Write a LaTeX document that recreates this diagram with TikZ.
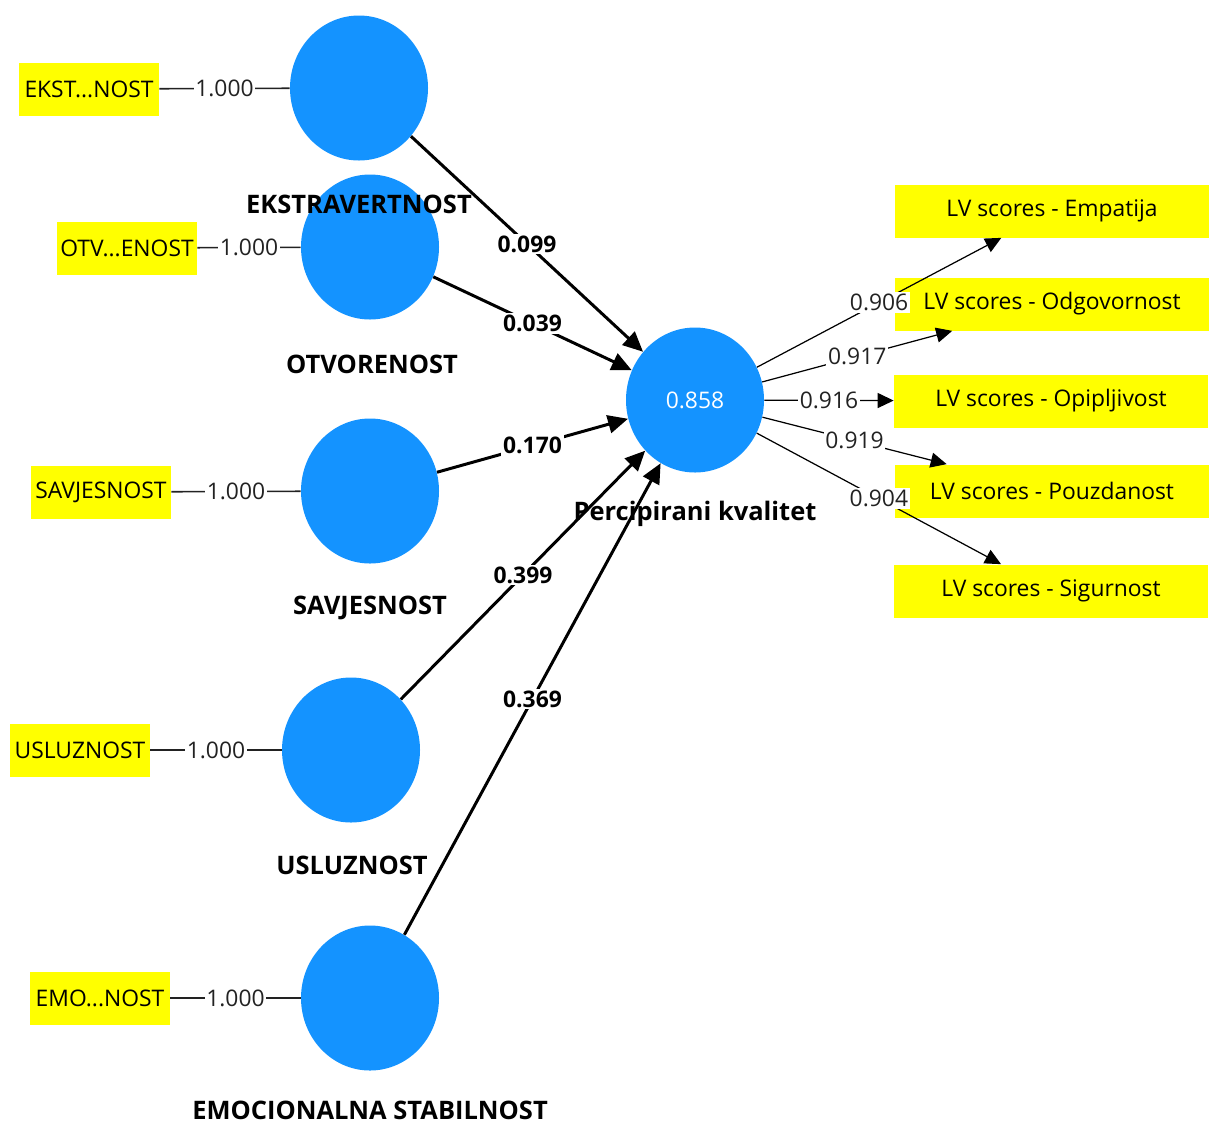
\documentclass[tikz,border=0pt]{standalone}
\usepackage{fontspec}
\setmainfont{Open Sans}
\usetikzlibrary{arrows.meta,shapes.geometric}
\definecolor{lvblue}{RGB}{20,147,255}
\definecolor{lvyellow}{RGB}{255,255,0}
\definecolor{lvgray}{RGB}{34,34,34}

\begin{document}
\begin{tikzpicture}[x=0.2mm,y=-0.2mm,
    font=\fontsize{13}{15}\selectfont,
    lv/.style={ellipse,fill=lvblue,minimum width=27.6mm,minimum height=29mm,inner sep=0pt},
    ind/.style={rectangle,fill=lvyellow,minimum width=28mm,minimum height=10.6mm,inner sep=0pt},
    score/.style={rectangle,fill=lvyellow,minimum width=62.8mm,minimum height=10.6mm,inner sep=0pt},
    lvname/.style={font=\fontsize{14.5}{16}\selectfont\bfseries},
    load/.style={draw=lvgray,line width=0.9pt},
    loadlab/.style={fill=white,inner sep=1pt,text=lvgray},
    pathline/.style={draw=black,line width=1.7pt,-{Triangle[length=4mm,width=3.6mm]}},
    coef/.style={fill=white,inner sep=1pt,font=\fontsize{13}{15}\selectfont\bfseries},
    scorearrow/.style={draw=black,line width=0.7pt,-{Triangle[length=3.2mm,width=3mm]}},
    outlab/.style={fill=white,inner sep=1pt,text=lvgray}]
    \useasboundingbox (0,0) rectangle (1210,1124);
    % % ----- constructs ----- % %
    \node[lv] (eks) at (359,88) {};		% Ekstravertnost
    \node[lv] (otv) at (370,247) {};		% Otvorenost
    \node[lv] (sav) at (370,491) {};		% Savjesnost
    \node[lv] (usl) at (351,750) {};		% Usluznost
    \node[lv] (emo) at (370,998) {};		% Emocionalna stabilnost
    \node[lv,text=white] (pk) at (695,400) {0.858};	% R^2
    % % ----- construct names ----- % %
    \node[lvname] (eksname) at (359,204) {EKSTRAVERTNOST};
    \node[lvname] (otvname) at (372,364) {OTVORENOST};
    \node[lvname] (savname) at (370,608) {SAVJESNOST};
    \node[lvname] (uslname) at (352,865) {USLUZNOST};
    \node[lvname] (emoname) at (370,1110) {EMOCIONALNA STABILNOST};
    \node[lvname] (pkname) at (695,514) {Percipirani kvalitet};
    % % ----- indicators ----- % %
    \node[ind] (eksind) at (89,89) {EKST...NOST};
    \node[ind] (otvind) at (127,248) {OTV...ENOST};
    \node[ind] (savind) at (101,492) {SAVJESNOST};
    \node[ind] (uslind) at (80,750) {USLUZNOST};
    \node[ind] (emoind) at (100,998) {EMO...NOST};
    % % ----- LV scores ----- % %
    \node[score] (emp) at (1052,211) {LV scores - Empatija};
    \node[score] (odg) at (1052,304) {LV scores - Odgovornost};
    \node[score] (opi) at (1051,401) {LV scores - Opipljivost};
    \node[score] (pou) at (1052,491) {LV scores - Pouzdanost};
    \node[score] (sig) at (1051,591) {LV scores - Sigurnost};
    % % ----- loadings ----- % %
    \draw[load] (eksind) -- node[loadlab]{1.000} (eks);
    \draw[load] (otvind) -- node[loadlab]{1.000} (otv);
    \draw[load] (savind) -- node[loadlab]{1.000} (sav);
    \draw[load] (uslind) -- node[loadlab]{1.000} (usl);
    \draw[load] (emoind) -- node[loadlab]{1.000} (emo);
    % % ----- paths ----- % %
    \draw[pathline] (eks) -- node[coef]{0.099} (pk);
    \draw[pathline] (otv) -- node[coef]{0.039} (pk);
    \draw[pathline] (sav) -- node[coef]{0.170} (pk);
    \draw[pathline] (usl) -- node[coef]{0.399} (pk);
    \draw[pathline] (emo) -- node[coef]{0.369} (pk);
    % % ----- outer loadings ----- % %
    \draw[scorearrow] (pk) -- node[outlab]{0.906} (emp);
    \draw[scorearrow] (pk) -- node[outlab]{0.917} (odg);
    \draw[scorearrow] (pk) -- node[outlab]{0.916} (opi);
    \draw[scorearrow] (pk) -- node[outlab]{0.919} (pou);
    \draw[scorearrow] (pk) -- node[outlab]{0.904} (sig);
\end{tikzpicture}
\end{document}
